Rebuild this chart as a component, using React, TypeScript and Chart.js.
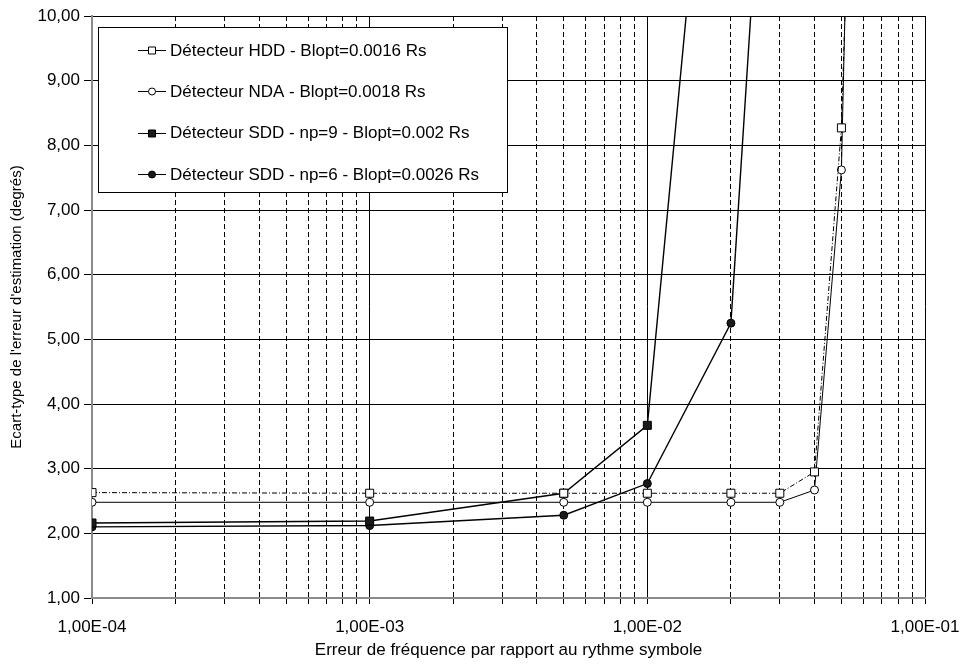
import React, { useEffect, useRef } from 'react';
import { Chart, registerables } from 'chart.js';

Chart.register(...registerables);

// ---- Data ----
const xHDD = [1e-4, 1e-3, 5e-3, 1e-2, 2e-2, 3e-2, 4e-2, 5e-2, 6e-2];
const yHDD = [2.63, 2.62, 2.62, 2.62, 2.62, 2.62, 2.95, 8.27, 19.2];

const xNDA = [1e-4, 1e-3, 5e-3, 1e-2, 2e-2, 3e-2, 4e-2, 5e-2, 6e-2];
const yNDA = [2.48, 2.48, 2.48, 2.48, 2.48, 2.48, 2.67, 7.62, 22.6];

const xSDD9 = [1e-4, 1e-3, 5e-3, 1e-2, 2e-2];
const ySDD9 = [2.16, 2.19, 2.62, 3.67, 17.3];

const xSDD6 = [1e-4, 1e-3, 5e-3, 1e-2, 2e-2, 3e-2];
const ySDD6 = [2.1, 2.12, 2.28, 2.77, 5.25, 17.0];

const seriesLabels = [
  'Détecteur HDD - Blopt=0.0016 Rs',
  'Détecteur NDA - Blopt=0.0018 Rs',
  'Détecteur SDD - np=9 - Blopt=0.002 Rs',
  'Détecteur SDD - np=6 - Blopt=0.0026 Rs',
];

const xDecades = [1e-4, 1e-3, 1e-2, 1e-1];
const xMinorMultipliers = [2, 3, 4, 5, 6, 7, 8, 9];
const yTickValues = [1, 2, 3, 4, 5, 6, 7, 8, 9, 10];

const xTitle = 'Erreur de fréquence par rapport au rythme symbole';
const yTitle = "Ecart-type de l'erreur d'estimation (degrés)";

const FONT = "'Liberation Sans', Arial, Helvetica, sans-serif";

function toPoints(xs: number[], ys: number[]) {
  return xs.map((x, i) => ({ x, y: ys[i] }));
}

function isDecade(v: number) {
  const l = Math.log10(v);
  return Math.abs(l - Math.round(l)) < 1e-6;
}

function buildXTicks() {
  const t: { value: number }[] = [];
  for (let i = 0; i < xDecades.length; i++) {
    t.push({ value: xDecades[i] });
    if (i < xDecades.length - 1) {
      for (const m of xMinorMultipliers) t.push({ value: xDecades[i] * m });
    }
  }
  return t;
}

type Style = {
  shape: 'square' | 'circle';
  fill: string;
  dash: number[];
  width: number;
};

const styles: Style[] = [
  { shape: 'square', fill: '#ffffff', dash: [5, 2, 1, 2], width: 1 },
  { shape: 'circle', fill: '#ffffff', dash: [], width: 1 },
  { shape: 'square', fill: '#1a1a1a', dash: [], width: 1.4 },
  { shape: 'circle', fill: '#1a1a1a', dash: [], width: 1.4 },
];

function drawMarker(ctx: CanvasRenderingContext2D, s: Style, x: number, y: number) {
  ctx.save();
  ctx.setLineDash([]);
  ctx.fillStyle = s.fill;
  ctx.strokeStyle = '#000';
  ctx.lineWidth = 1;
  ctx.beginPath();
  if (s.shape === 'square') {
    ctx.rect(x - 3.5, y - 3.5, 7, 7);
  } else {
    ctx.arc(x, y, 3.5, 0, Math.PI * 2);
  }
  ctx.fill();
  ctx.stroke();
  ctx.restore();
}

const boxLegend = {
  id: 'boxLegend',
  afterDraw(chart: any) {
    const { ctx, chartArea } = chart;
    const left = chartArea.left + 6;
    const top = chartArea.top + 11;
    const w = 409;
    const h = 165;
    ctx.save();
    ctx.fillStyle = '#ffffff';
    ctx.fillRect(left, top, w, h);
    ctx.strokeStyle = '#000';
    ctx.lineWidth = 1;
    ctx.setLineDash([]);
    ctx.strokeRect(Math.round(left) + 0.5, Math.round(top) + 0.5, w, h);
    ctx.font = `17px ${FONT}`;
    ctx.textBaseline = 'middle';
    ctx.fillStyle = '#000';
    seriesLabels.forEach((label, i) => {
      const y = top + 23 + i * 41.3;
      const s = styles[i];
      ctx.save();
      ctx.strokeStyle = '#000';
      ctx.lineWidth = 1;
      ctx.beginPath();
      ctx.moveTo(left + 40, Math.round(y) + 0.5);
      ctx.lineTo(left + 68, Math.round(y) + 0.5);
      ctx.stroke();
      ctx.restore();
      drawMarker(ctx, s, left + 54, Math.round(y) + 0.5);
      ctx.fillStyle = '#000';
      ctx.fillText(label, left + 72, y + 1);
    });
    ctx.restore();
  },
};

export default function App() {
  const ref = useRef<HTMLCanvasElement | null>(null);

  useEffect(() => {
    document.body.style.margin = '0';
    const canvas = ref.current;
    if (!canvas) return;

    const datasets = [
      toPoints(xHDD, yHDD),
      toPoints(xNDA, yNDA),
      toPoints(xSDD9, ySDD9),
      toPoints(xSDD6, ySDD6),
    ].map((data, i) => {
      const s = styles[i];
      return {
        label: seriesLabels[i],
        data,
        borderColor: '#000',
        backgroundColor: s.fill,
        borderWidth: s.width,
        borderDash: s.dash,
        pointStyle: s.shape === 'square' ? 'rect' : 'circle',
        pointRadius: s.shape === 'square' ? 5.66 : 4,
        pointBorderWidth: 1,
        pointBorderColor: '#000',
        pointBackgroundColor: s.fill,
        tension: 0,
        fill: false,
      };
    });

    const chart = new Chart(canvas, {
      type: 'line',
      data: { datasets: datasets as any },
      plugins: [boxLegend],
      options: {
        animation: false,
        responsive: false,
        devicePixelRatio: 1,
        layout: { padding: { top: 16, right: 35, left: 0, bottom: 0 } },
        plugins: {
          legend: { display: false },
          tooltip: { enabled: false },
        },
        font: { family: FONT },
        scales: {
          x: {
            type: 'logarithmic',
            min: 1e-4,
            max: 1e-1,
            afterBuildTicks: (scale: any) => {
              scale.ticks = buildXTicks();
            },
            afterFit: (scale: any) => {
              scale.height = 68;
              scale.paddingLeft = 0;
              scale.paddingRight = 0;
            },
            ticks: {
              autoSkip: false,
              maxRotation: 0,
              minRotation: 0,
              padding: 13,
              color: '#000',
              font: { family: FONT, size: 17 },
              callback: (v: any) => {
                const n = Number(v);
                if (!isDecade(n)) return '';
                const e = Math.round(Math.log10(n));
                return `1,00E-0${-e}`;
              },
            },
            grid: {
              color: '#000',
              lineWidth: 1,
              drawTicks: true,
              tickLength: 6,
              tickColor: '#000',
            },
            border: {
              display: true,
              color: '#8a8a8a',
              width: 2,
              dash: (ctx: any) =>
                ctx.tick && !isDecade(ctx.tick.value) ? [5, 3] : [],
            },
            title: {
              display: true,
              text: xTitle,
              color: '#000',
              font: { family: FONT, size: 17 },
              padding: { top: 0, bottom: 5 },
            },
          },
          y: {
            type: 'linear',
            min: 1,
            max: 10,
            afterBuildTicks: (scale: any) => {
              scale.ticks = yTickValues.map((value) => ({ value }));
            },
            afterFit: (scale: any) => {
              scale.width = 92;
              scale.paddingTop = 0;
              scale.paddingBottom = 0;
            },
            ticks: {
              color: '#000',
              padding: 4,
              font: { family: FONT, size: 17 },
              callback: (v: any) => Number(v).toFixed(2).replace('.', ','),
            },
            grid: {
              color: '#000',
              lineWidth: 1,
              tickLength: 8,
              tickColor: '#000',
            },
            border: { display: true, color: '#8a8a8a', width: 2 },
            title: {
              display: true,
              text: yTitle,
              color: '#000',
              font: { family: FONT, size: 15 },
              padding: { top: 8, bottom: 0 },
            },
          },
        },
      } as any,
    });

    return () => chart.destroy();
  }, []);

  return (
    <canvas
      ref={ref}
      width={960}
      height={666}
      style={{ display: 'block', width: 960, height: 666 }}
    />
  );
}
